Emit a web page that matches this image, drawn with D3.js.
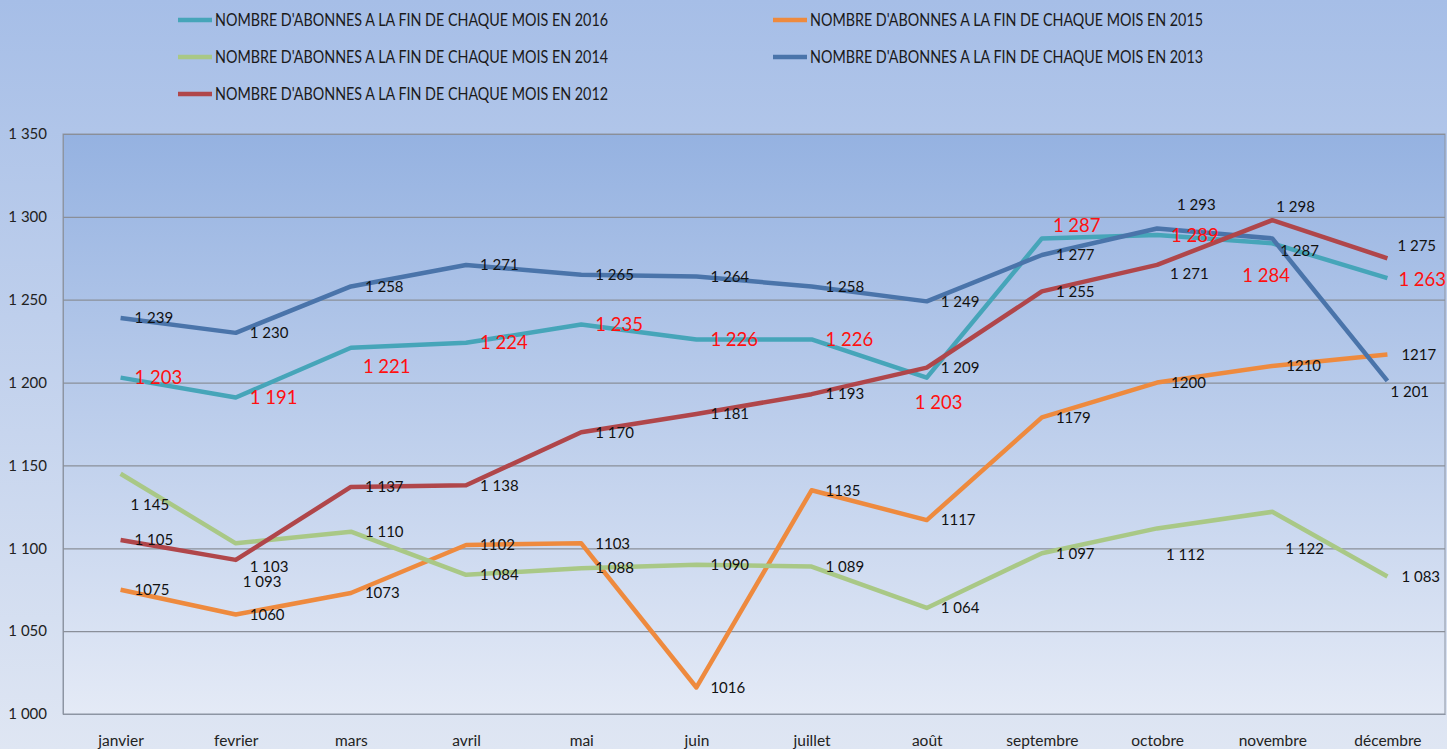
<!DOCTYPE html>
<html>
<head>
<meta charset="utf-8">
<script src="https://cdn.jsdelivr.net/npm/d3@7"></script>
<style>
  html, body { margin: 0; padding: 0; overflow: hidden; }
  svg { display: block; font-family: Lato, "Open Sans", sans-serif; }
</style>
</head>
<body>
<div id="chart"></div>
<script>
// months + one array per year
const months = ["janvier", "fevrier", "mars", "avril", "mai", "juin", "juillet", "août", "septembre", "octobre", "novembre", "décembre"];

const abonnes2016 = [1203, 1191, 1221, 1224, 1235, 1226, 1226, 1203, 1287, 1289, 1284, 1263];
const abonnes2015 = [1075, 1060, 1073, 1102, 1103, 1016, 1135, 1117, 1179, 1200, 1210, 1217];
const abonnes2014 = [1145, 1103, 1110, 1084, 1088, 1090, 1089, 1064, 1097, 1112, 1122, 1083];
const abonnes2013 = [1239, 1230, 1258, 1271, 1265, 1264, 1258, 1249, 1277, 1293, 1287, 1201];
const abonnes2012 = [1105, 1093, 1137, 1138, 1170, 1181, 1193, 1209, 1255, 1271, 1298, 1275];

const yTicks = [1000, 1050, 1100, 1150, 1200, 1250, 1300, 1350];

const legendLabel = y => "NOMBRE D'ABONNES A LA FIN DE CHAQUE MOIS EN " + y;

const width = 1447, height = 749;
const plot = { left: 63, right: 1445, top: 134, bottom: 714 };

const fr = d3.formatLocale({ decimal: ",", thousands: "\u00a0", grouping: [3], currency: ["", " €"] });
const fmtSpace = fr.format(",d");
const fmtPlain = d3.format("d");

// series in drawing order, with styling
const series = [
  { year: 2016, values: abonnes2016, color: "#46a5b9", labelColor: "#ff1010", labelSize: 18.5, fmt: fmtSpace },
  { year: 2015, values: abonnes2015, color: "#ee8a3e", labelColor: "#111", labelSize: 15, fmt: fmtPlain },
  { year: 2014, values: abonnes2014, color: "#a9c886", labelColor: "#111", labelSize: 15, fmt: fmtSpace },
  { year: 2013, values: abonnes2013, color: "#4a74aa", labelColor: "#111", labelSize: 15, fmt: fmtSpace },
  { year: 2012, values: abonnes2012, color: "#b0464a", labelColor: "#111", labelSize: 15, fmt: fmtSpace }
];

// label nudges (dx from point, dy of label centre) where the default "right" spot is not used
const labelNudges = {
  2016: { 2: [12, 19], 7: [-12, 25], 8: [11, -13], 10: [-30, 32], 11: [11, 1] },
  2015: {},
  2014: { 0: [10, 31], 1: [14, 23], 9: [9, 26], 10: [13, 37] },
  2013: { 9: [20, -24], 10: [8, 12], 11: [3, 11] },
  2012: { 1: [7, 22], 9: [13, 9], 10: [4, -13], 11: [10, -13] }
};

const svg = d3.select("#chart").append("svg")
  .attr("width", width)
  .attr("height", height);

const defs = svg.append("defs");
const bgGrad = defs.append("linearGradient").attr("id", "bg").attr("x1", 0).attr("y1", 0).attr("x2", 0).attr("y2", 1);
bgGrad.append("stop").attr("offset", "0%").attr("stop-color", "#a6bee7");
bgGrad.append("stop").attr("offset", "100%").attr("stop-color", "#dfe6f3");
const plotGrad = defs.append("linearGradient").attr("id", "plotbg").attr("x1", 0).attr("y1", 0).attr("x2", 0).attr("y2", 1);
plotGrad.append("stop").attr("offset", "0%").attr("stop-color", "#95b2e1");
plotGrad.append("stop").attr("offset", "100%").attr("stop-color", "#e4eaf6");

svg.append("rect").attr("width", width).attr("height", height).attr("fill", "url(#bg)");

svg.append("rect")
  .attr("x", plot.left).attr("y", plot.top)
  .attr("width", plot.right - plot.left).attr("height", plot.bottom - plot.top)
  .attr("fill", "url(#plotbg)")
  .attr("stroke", "#8d95a3").attr("stroke-width", 1);

const x = d3.scalePoint().domain(months).range([plot.left, plot.right]).padding(0.5);
const y = d3.scaleLinear().domain([1000, 1350]).range([plot.bottom, plot.top]);

// y axis + gridlines
const yAxis = svg.append("g")
  .attr("transform", "translate(" + plot.left + ",0)")
  .call(d3.axisLeft(y).tickValues(yTicks).tickFormat(fmtSpace)
    .tickSize(-(plot.right - plot.left)).tickPadding(16));
yAxis.select(".domain").attr("stroke", "#8d95a3");
yAxis.selectAll(".tick line").attr("stroke", "#8a8f99").attr("stroke-width", 1.2);
yAxis.selectAll(".tick text")
  .attr("fill", "#222").attr("font-size", 15)
  .attr("font-family", "Lato, sans-serif");

// x axis
const xAxis = svg.append("g")
  .attr("transform", "translate(0," + plot.bottom + ")")
  .call(d3.axisBottom(x).tickSize(0).tickPadding(21));
xAxis.select(".domain").attr("stroke", "#8d95a3");
xAxis.selectAll(".tick text")
  .attr("fill", "#222").attr("font-size", 15.5)
  .attr("font-family", "Lato, sans-serif");

// lines
const line = d3.line()
  .x((d, i) => x(months[i]))
  .y(d => y(d));

svg.append("g").selectAll("path")
  .data(series)
  .enter()
  .append("path")
  .attr("d", s => line(s.values))
  .attr("fill", "none")
  .attr("stroke", s => s.color)
  .attr("stroke-width", 4.5)
  .attr("stroke-linejoin", "round");

// data labels
series.forEach(s => {
  svg.append("g").selectAll("text")
    .data(s.values)
    .enter()
    .append("text")
    .attr("x", (d, i) => x(months[i]) + ((labelNudges[s.year][i] || [14, 0])[0]))
    .attr("y", (d, i) => y(d) + ((labelNudges[s.year][i] || [14, 0])[1]))
    .attr("dy", "0.35em")
    .attr("font-size", s.labelSize)
    .attr("fill", s.labelColor)
    .text(d => s.fmt(d));
});

// legend, two columns, row-wise
const legend = svg.append("g").selectAll("g")
  .data(series)
  .enter()
  .append("g")
  .attr("transform", (s, i) => "translate(" + (i % 2 === 0 ? 178 : 773) + "," + (20 + Math.floor(i / 2) * 37) + ")");

legend.append("line")
  .attr("x1", 0).attr("x2", 34)
  .attr("stroke", s => s.color)
  .attr("stroke-width", 4.5);

legend.append("text")
  .attr("x", 37)
  .attr("dy", "0.35em")
  .attr("font-size", 17)
  .attr("fill", "#1a1a1a")
  .attr("textLength", 393)
  .attr("lengthAdjust", "spacingAndGlyphs")
  .text(s => legendLabel(s.year));
</script>
</body>
</html>
